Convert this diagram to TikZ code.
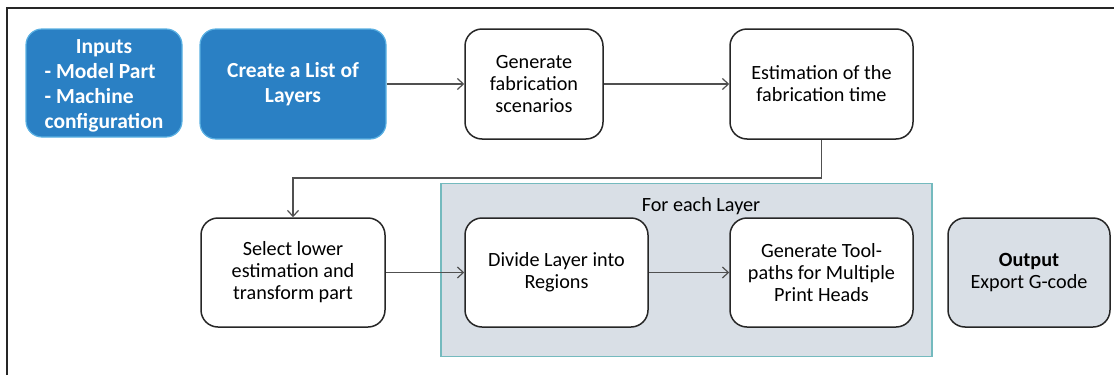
\documentclass[tikz,border=0pt]{standalone}
\usepackage{fontspec}
\setmainfont{Carlito}
\usetikzlibrary{arrows.meta}
\definecolor{bluefill}{HTML}{2A80C4}
\definecolor{blueedge}{HTML}{5AB0E2}
\definecolor{groupfill}{HTML}{D9DFE6}
\definecolor{groupedge}{HTML}{74BABE}
\definecolor{arrowgrey}{HTML}{505050}
\tikzset{
  bluebox/.style={draw=blueedge, line width=1.2pt, fill=bluefill, rounded corners=16pt, text=white,
    font=\fontsize{21.5}{25}\selectfont\bfseries, align=center, inner sep=0pt},
  whitebox/.style={draw=black!85, line width=1.5pt, fill=white, rounded corners=17pt,
    font=\fontsize{20.2}{22}\selectfont, align=center, inner sep=0pt},
  outbox/.style={whitebox, fill=groupfill},
  flow/.style={draw=arrowgrey, line width=1.3pt, -{Straight Barb[length=6pt,width=11pt,line width=1.2pt]}},
}
\begin{document}
\begin{tikzpicture}[x=1pt,y=-1pt]
\useasboundingbox (0,0) rectangle (1114,375);
% outer frame (cut by the picture edges)
\draw[line width=2pt, black!85] (7,375) -- (7,8) -- (1116,8);
% group box
\node[draw=groupedge, line width=1.2pt, fill=groupfill, minimum width=491pt, minimum height=173pt, inner sep=0pt] (grp) at (686.5,270) {};
\node[font=\fontsize{20.2}{22}\selectfont, anchor=base] (grplbl) at (701,211) {For each Layer};
% top row
\node[bluebox, minimum width=156pt, minimum height=108pt] (inp) at (104,83) {\begin{tabular}{@{}l@{}}\multicolumn{1}{@{}c@{}}{\rule{0pt}{23.5pt}Inputs}\\- Model Part\\- Machine\\configuration\end{tabular}};
\node[bluebox, minimum width=186pt, minimum height=110pt] (list) at (293,84) {Create a List of\\Layers};
\node[whitebox, minimum width=138pt, minimum height=110pt] (gen) at (534,84) {Generate\\fabrication\\scenarios};
\node[whitebox, minimum width=183pt, minimum height=110pt] (est) at (821.5,84) {Estimation of the\\fabrication time};
% bottom row
\node[whitebox, minimum width=184pt, minimum height=109pt] (sel) at (293,272.5) {Select lower\\estimation and\\transform part};
\node[whitebox, minimum width=183pt, minimum height=109pt] (div) at (556.5,272.5) {Divide Layer into\\Regions};
\node[whitebox, minimum width=183pt, minimum height=109pt] (tool) at (821.5,272.5) {Generate Tool-\\paths for Multiple\\Print Heads};
\node[outbox, minimum width=162pt, minimum height=109pt] (out) at (1029,272.5) {\textbf{Output}\\Export G-code};
% connectors
\draw[flow] (list.east) -- (gen.west);
\draw[flow] (gen.east) -- (est.west);
\coordinate (c1) at (821.5,178);
\coordinate (c2) at (293,178);
\draw[flow] (est.south) -- (c1) -- (c2) -- (sel.north);
\draw[flow] (sel.east) -- (div.west);
\draw[flow] (div.east) -- (tool.west);
\end{tikzpicture}
\end{document}
